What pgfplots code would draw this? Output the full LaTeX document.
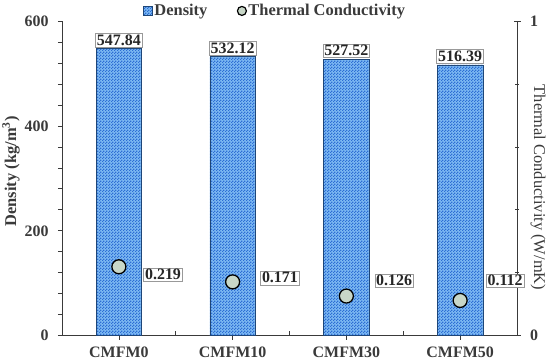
\documentclass[border=0pt]{standalone}
\usepackage{fontspec}
\setmainfont{Liberation Serif}
\usepackage{pgfplots}
\pgfplotsset{compat=1.18}
\usetikzlibrary{patterns}
\pgfdeclarepatternformonly{checks}{\pgfpointorigin}{\pgfpoint{3bp}{3bp}}{\pgfpoint{3bp}{3bp}}{%
  \pgfpathrectangle{\pgfpointorigin}{\pgfpoint{1.5bp}{1.5bp}}%
  \pgfpathrectangle{\pgfpoint{1.5bp}{1.5bp}}{\pgfpoint{1.5bp}{1.5bp}}%
  \pgfusepath{fill}}
\definecolor{txt}{HTML}{3A3A3A}
\definecolor{barbase}{RGB}{125,185,242}
\definecolor{barfill}{RGB}{45,110,212}
\definecolor{baredge}{RGB}{30,70,120}
\definecolor{mkfill}{RGB}{200,215,200}
\begin{document}
\begin{tikzpicture}
\begin{axis}[
  scale only axis, width=455bp, height=314.7bp,
  xmin=0, xmax=4, ymin=0, ymax=600,
  axis x line*=bottom, axis y line*=left,
  axis line style={draw=txt, line width=0.8pt, -},
  ytick={0,200,400,600}, minor y tick num=4,
  xtick={0.5,1.5,2.5,3.5}, xticklabels={CMFM0,CMFM10,CMFM30,CMFM50},
  extra x ticks={1,2,3}, extra x tick labels={},
  extra x tick style={tick align=inside, major tick length=5bp},
  tick align=outside, major tick length=4bp, minor tick length=4bp,
  tick style={draw=txt, line width=0.7pt},
  ticklabel style={font=\fontsize{16}{16}\selectfont\bfseries, text=txt},
  xticklabel style={yshift=-4bp},
  yticklabel style={xshift=-6bp},
  /pgf/number format/assume math mode=true,
  ylabel={Density (kg/m\textsuperscript{3})},
  ylabel style={font=\fontsize{16.5}{16.5}\selectfont\bfseries, text=txt,
    at={(axis description cs:-0.112,0.522)}, anchor=center},
]
\addplot[ybar, bar width=0.4, fill=barbase, draw=baredge, line width=0.6pt,
  postaction={pattern=checks, pattern color=barfill},
  nodes near coords={\pgfmathprintnumber[fixed,precision=2,fixed zerofill]{\pgfplotspointmeta}},
  nodes near coords style={font=\fontsize{16}{16}\selectfont\bfseries, text=black!85,
    draw=gray!80, fill=white, inner sep=1.5pt, anchor=south, yshift=1bp}]
  coordinates {(0.5,547.84) (1.5,532.12) (2.5,527.52) (3.5,516.39)};
\end{axis}
\begin{axis}[
  scale only axis, width=455bp, height=314.7bp,
  xmin=0, xmax=4, ymin=0, ymax=1,
  axis x line=none, axis y line*=right,
  axis line style={draw=txt, line width=0.8pt, -},
  ytick={0,1}, minor ytick={0.2,0.4,0.6,0.8},
  tick align=center, major tick length=7bp, minor tick length=4bp,
  tick style={draw=txt, line width=0.7pt},
  ticklabel style={font=\fontsize{16}{16}\selectfont\bfseries, text=txt},
  yticklabel style={xshift=6bp},
  /pgf/number format/assume math mode=true,
  ylabel={Thermal Conductivity (W/mK)},
  ylabel style={font=\fontsize{16.5}{16.5}\selectfont, text=txt,
    at={(axis description cs:1.046,0.471)}, anchor=center, rotate=180},
  legend columns=2,
  legend style={draw=none, fill=none, at={(0.468,1.032)}, anchor=center,
    font=\fontsize{16.5}{16.5}\selectfont\bfseries, text=txt,
    /tikz/every even column/.append style={column sep=28bp}},
]
\addlegendimage{legend image code/.code={
  \draw[fill=barbase, draw=baredge, line width=0.6pt, postaction={pattern=checks, pattern color=barfill}] (-2bp,-4.5bp) rectangle (7bp,4.5bp);}}
\addlegendentry{Density}
\addlegendimage{only marks, mark=*, mark size=4.5bp, mark options={fill=mkfill, draw=black, line width=1.2pt}}
\addlegendentry{Thermal Conductivity}
\addplot[forget plot, only marks, mark=*, mark size=7bp,
  mark options={fill=mkfill, draw=black, line width=1.3pt}]
  coordinates {(0.5,0.219) (1.5,0.171) (2.5,0.126) (3.5,0.112)};
\addplot[forget plot, only marks, mark=none, point meta=explicit symbolic,
  nodes near coords,
  nodes near coords style={font=\fontsize{16}{16}\selectfont\bfseries, text=black!85,
    draw=gray!80, fill=white, inner sep=1.5pt, anchor=center}]
  coordinates {(0.888,0.194)[0.219] (1.916,0.184)[0.171] (2.92,0.175)[0.126] (3.895,0.175)[0.112]};
\end{axis}
\pgfresetboundingbox
\path (-62bp,-27.3bp) rectangle (488bp,335.7bp);
\end{tikzpicture}
\end{document}
